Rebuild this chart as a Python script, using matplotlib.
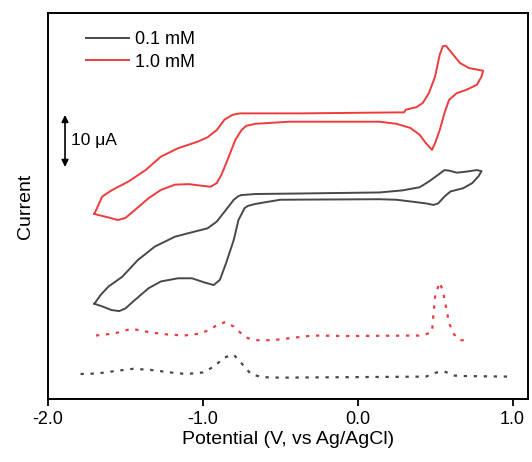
import matplotlib
matplotlib.use('Agg')
import matplotlib.pyplot as plt
import numpy as np

plt.rcParams['font.family'] = ['Liberation Sans', 'DejaVu Sans']

## data (potential in V, current in uA incl. vertical offsets)
#==================================================================
# 1.0 mM CV, forward branch (left -> right) then back (right -> left)
red_cv_v = [-1.70, -1.65, -1.59, -1.48, -1.37, -1.27, -1.16, -1.03, -0.97, -0.91, -0.86,
            -0.81, -0.78, -0.76, -0.66, -0.37, 0.30, 0.31, 0.38, 0.42, 0.46, 0.50, 0.53, 0.55,
            0.57, 0.60, 0.66, 0.72, 0.81,
            0.80, 0.77, 0.70, 0.64, 0.59, 0.56, 0.53, 0.50, 0.48, 0.44, 0.40, 0.34, 0.25,
            0.14, -0.44, -0.66, -0.72, -0.75, -0.79, -0.84, -0.88, -0.91, -0.95, -1.01, -1.09,
            -1.18, -1.27, -1.35, -1.44, -1.50, -1.55, -1.61, -1.68, -1.70]
red_cv_i = [35.6, 38.9, 40.1, 41.8, 44.0, 46.6, 48.2, 49.5, 50.3, 51.7, 53.7,
            54.6, 54.8, 54.9, 54.9, 54.9, 55.1, 55.6, 56.1, 56.9, 58.8, 62.0, 66.2, 67.8,
            67.9, 66.8, 64.6, 63.6, 63.1,
            62.0, 60.4, 59.4, 58.8, 57.5, 54.9, 51.7, 49.2, 47.9, 49.2, 50.8, 52.1, 52.9,
            53.3, 53.3, 52.9, 52.5, 51.7, 49.8, 46.0, 43.1, 41.5, 40.8, 41.0, 41.3,
            41.2, 40.2, 38.6, 36.3, 34.8, 34.4, 34.9, 35.4, 35.6]

# 0.1 mM CV
gray_cv_v = [-1.70, -1.66, -1.61, -1.52, -1.42, -1.31, -1.18, -1.05, -0.97, -0.91, -0.86,
             -0.80, -0.77, -0.75, -0.66, -0.37, 0.14, 0.29, 0.40, 0.46, 0.52, 0.56, 0.59, 0.64,
             0.70, 0.77, 0.80,
             0.78, 0.74, 0.68, 0.60, 0.56, 0.52, 0.49, 0.44, 0.36, 0.25, 0.14, -0.50,
             -0.66, -0.71, -0.73, -0.77, -0.80, -0.85, -0.89, -0.93, -0.99, -1.07, -1.16, -1.27,
             -1.35, -1.44, -1.50, -1.54, -1.59, -1.65, -1.70]
gray_cv_i = [18.3, 20.0, 21.6, 23.5, 26.7, 29.3, 31.2, 32.2, 32.8, 34.1, 36.0,
             38.3, 39.0, 39.2, 39.4, 39.5, 39.7, 40.1, 40.7, 41.8, 43.1, 44.0, 43.9, 43.5,
             43.7, 44.0, 43.8,
             42.8, 41.5, 40.5, 39.9, 38.9, 37.6, 37.3, 37.6, 37.9, 38.3, 38.4, 38.3,
             37.5, 37.1, 36.7, 34.4, 30.6, 26.1, 22.9, 21.9, 22.4, 23.2, 23.2, 22.6,
             21.3, 19.0, 17.4, 16.9, 17.1, 17.8, 18.3]

# dotted traces
red_dp_v = [-1.69, -1.57, -1.46, -1.34, -1.23, -1.12, -1.01, -0.94, -0.90, -0.85, -0.80,
            -0.76, -0.71, -0.65, -0.55, -0.29, -0.07, 0.42, 0.48, 0.49, 0.50, 0.52, 0.53,
            0.55, 0.57, 0.59, 0.62, 0.66, 0.71]
red_dp_i = [12.2, 12.6, 13.5, 12.8, 12.4, 12.2, 12.6, 13.6, 14.4, 14.8, 13.9,
            12.8, 11.7, 11.3, 11.3, 12.2, 12.1, 12.2, 12.9, 16.5, 19.7, 21.6, 22.4,
            20.8, 17.8, 14.6, 12.5, 11.3, 11.3]

gray_dp_v = [-1.79, -1.68, -1.56, -1.45, -1.34, -1.21, -1.11, -1.00, -0.93, -0.86, -0.80,
             -0.76, -0.69, -0.62, -0.50, 0.44, 0.51, 0.56, 0.62, 0.70, 0.98]
gray_dp_i = [4.8, 4.9, 5.4, 5.8, 5.6, 5.1, 4.8, 5.1, 6.2, 8.0, 8.5,
             7.2, 4.8, 4.2, 4.1, 4.3, 5.1, 5.3, 4.5, 4.4, 4.3]

labels = ['0.1 mM', '1.0 mM']
xticks = [-2.0, -1.0, 0.0, 1.0]

red = '#ee3b3b'
gray = '#484848'

## figure
#==================================================================
fig = plt.figure(figsize=(5.32, 4.62), dpi=100)
ax = fig.add_axes([0.0902, 0.1364, 0.9023, 0.8355])

ax.plot(gray_cv_v, gray_cv_i, color=gray, lw=1.4, label=labels[0], solid_joinstyle='round')
ax.plot(red_cv_v, red_cv_i, color=red, lw=1.4, label=labels[1], solid_joinstyle='round')
ax.plot(red_dp_v, red_dp_i, color=red, lw=1.6, ls=(0, (1.5, 3)))
ax.plot(gray_dp_v, gray_dp_i, color=gray, lw=1.6, ls=(0, (1.5, 3)))

# 10 uA scale bar
ax.annotate('', xy=(-1.89, 44.6), xytext=(-1.89, 54.6),
            arrowprops=dict(arrowstyle='<|-|>', color='k', lw=1.2,
                            mutation_scale=10, shrinkA=0, shrinkB=0))
ax.text(-1.85, 49.6, '10 μA', fontsize=12.5, va='center', ha='left')

ax.set_xlim(-2.0, 1.1)
ax.set_ylim(0, 74.2)
ax.set_xticks(xticks)
ax.set_xticklabels(['-2.0', '-1.0', '0.0', '1.0'])
ax.set_yticks([])
ax.tick_params(axis='x', direction='out', length=5, width=1.3, labelsize=13, pad=4)
for s in ax.spines.values():
    s.set_linewidth(1.4)

ax.set_xlabel('Potential (V, vs Ag/AgCl)', fontsize=14, labelpad=2)
ax.set_ylabel('Current', fontsize=14, labelpad=10)

ax.legend(loc='upper left', bbox_to_anchor=(0.045, 0.995), frameon=False, fontsize=13,
          handlelength=2.4, handletextpad=0.35, labelspacing=0.3)

plt.savefig('out.png', dpi=100)
